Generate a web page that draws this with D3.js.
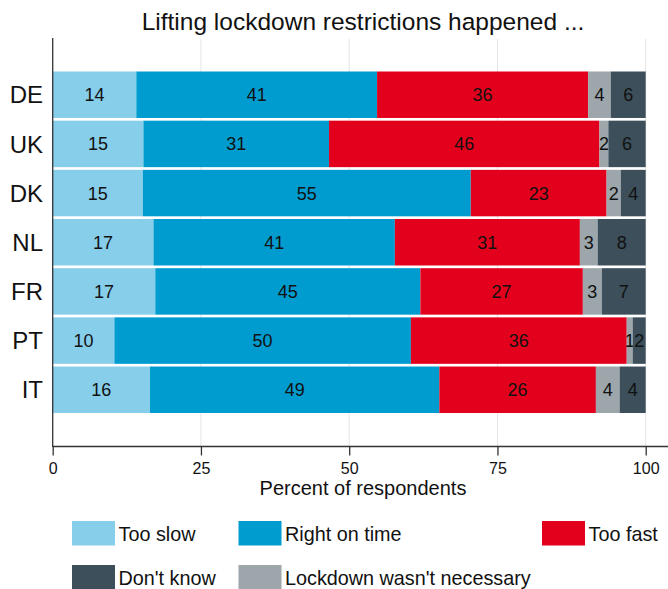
<!DOCTYPE html>
<html>
<head>
<meta charset="utf-8">
<script src="https://cdn.jsdelivr.net/npm/d3@7"></script>
<style>
  body { margin: 0; background: #fff; }
  svg text { font-family: "Liberation Sans", Arial, sans-serif; fill: #111; }
</style>
</head>
<body>
<svg id="chart" width="668" height="589"></svg>
<script>
// data
const countries = ['DE', 'UK', 'DK', 'NL', 'FR', 'PT', 'IT'];
const seriesKeys = ['tooSlow', 'onTime', 'tooFast', 'notNecessary', 'dontKnow'];
const tooSlow      = [14.1, 15.3, 15.2, 17.0, 17.3, 10.4, 16.4];
const onTime       = [40.6, 31.3, 55.3, 40.7, 44.7, 50.0, 48.8];
const tooFast      = [35.6, 45.6, 22.9, 31.2, 27.4, 36.4, 26.4];
const notNecessary = [3.8, 1.5, 2.4, 3.0, 3.2, 1.0, 4.0];
const dontKnow     = [5.9, 6.3, 4.2, 8.1, 7.4, 2.2, 4.4];
const xTicks = [0, 25, 50, 75, 100];

const colors = {
  tooSlow: '#87ceeb',
  onTime: '#009ccf',
  tooFast: '#e3001c',
  notNecessary: '#9ca6ab',
  dontKnow: '#3c4f5a',
};

const legendItems = [
  { key: 'tooSlow', label: 'Too slow' },
  { key: 'onTime', label: 'Right on time' },
  { key: 'tooFast', label: 'Too fast' },
  { key: 'dontKnow', label: "Don't know" },
  { key: 'notNecessary', label: "Lockdown wasn't necessary" },
];

const rows = countries.map((c, i) => ({
  country: c,
  tooSlow: tooSlow[i],
  onTime: onTime[i],
  tooFast: tooFast[i],
  notNecessary: notNecessary[i],
  dontKnow: dontKnow[i],
}));

const svg = d3.select('#chart');

const x = d3.scaleLinear().domain([0, 100]).range([52.7, 645.7]);
const y = d3.scaleBand().domain(countries).range([71.5, 413]).paddingInner(0.055);

// gridlines
svg.append('g')
  .selectAll('line')
  .data(xTicks.slice(1))
  .join('line')
    .attr('x1', d => x(d))
    .attr('x2', d => x(d))
    .attr('y1', 39)
    .attr('y2', 446.5)
    .attr('stroke', '#e4e4e4')
    .attr('stroke-width', 1);

// stacked bars
const series = d3.stack().keys(seriesKeys)(rows);

const layers = svg.append('g')
  .selectAll('g')
  .data(series)
  .join('g')
    .attr('fill', s => colors[s.key]);

layers.selectAll('rect')
  .data(s => s)
  .join('rect')
    .attr('x', d => x(d[0]))
    .attr('y', d => y(d.data.country))
    .attr('width', d => x(d[1]) - x(d[0]))
    .attr('height', y.bandwidth());

// value labels
const fmt = d3.format('.0f');
layers.selectAll('text')
  .data(s => s)
  .join('text')
    .attr('x', d => (x(d[0]) + x(d[1])) / 2)
    .attr('y', d => y(d.data.country) + y.bandwidth() / 2)
    .attr('dy', '0.36em')
    .attr('text-anchor', 'middle')
    .style('font-size', '18px')
    .text(d => fmt(d[1] - d[0]));

// y axis line and category labels
svg.append('line')
  .attr('x1', 52.7).attr('x2', 52.7)
  .attr('y1', 38).attr('y2', 447)
  .attr('stroke', '#333').attr('stroke-width', 1.3);

svg.append('g')
  .selectAll('text')
  .data(countries)
  .join('text')
    .attr('x', 43)
    .attr('y', d => y(d) + y.bandwidth() / 2)
    .attr('dy', '0.36em')
    .attr('text-anchor', 'end')
    .style('font-size', '24px')
    .text(d => d);

// x axis
const xAxis = d3.axisBottom(x)
  .tickValues(xTicks)
  .tickSize(9)
  .tickPadding(7)
  .tickFormat(d3.format('d'));

const gx = svg.append('g')
  .attr('transform', 'translate(0, 446.5)')
  .call(xAxis);
gx.select('.domain').remove();
gx.selectAll('.tick line').attr('stroke', '#333').attr('stroke-width', 1.3);
gx.selectAll('.tick text')
  .style('font-size', '16px')
  .style('font-family', '"Liberation Sans", Arial, sans-serif')
  .attr('fill', '#111');
gx.append('line')
  .attr('x1', 52.7).attr('x2', 668)
  .attr('stroke', '#333').attr('stroke-width', 1.3);

svg.append('text')
  .attr('x', 363)
  .attr('y', 495)
  .attr('text-anchor', 'middle')
  .style('font-size', '20px')
  .text('Percent of respondents');

// title
svg.append('text')
  .attr('x', 363)
  .attr('y', 30)
  .attr('text-anchor', 'middle')
  .style('font-size', '24.5px')
  .text('Lifting lockdown restrictions happened ...');

// legend
const legendPos = [
  [72, 521], [238.5, 521], [542, 521],
  [72, 565], [238.5, 565],
];
const legend = svg.append('g')
  .selectAll('g')
  .data(legendItems)
  .join('g')
    .attr('transform', (d, i) => `translate(${legendPos[i][0]}, ${legendPos[i][1]})`);

legend.append('rect')
  .attr('width', 43)
  .attr('height', 24.5)
  .attr('fill', d => colors[d.key]);

legend.append('text')
  .attr('x', 46.5)
  .attr('y', 12.5)
  .attr('dy', '0.36em')
  .style('font-size', '19.8px')
  .text(d => d.label);
</script>
</body>
</html>
